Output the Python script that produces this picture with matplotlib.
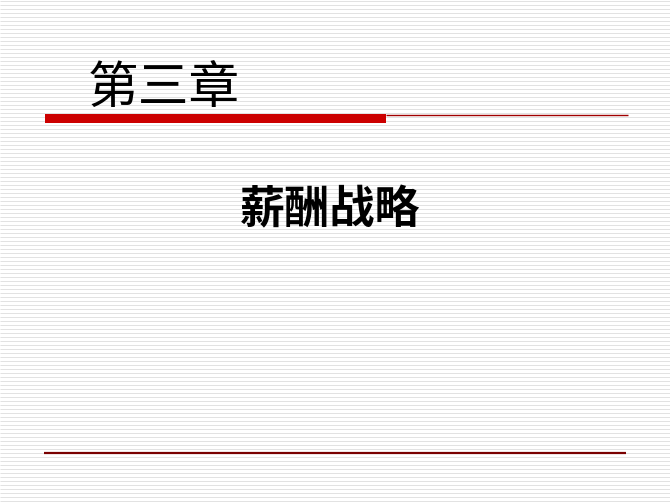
import numpy as np
import matplotlib.pyplot as plt

plt.rcParams['font.family'] = ['Noto Sans CJK SC', 'DejaVu Sans']

title = '第三章'
subtitle = '薪酬战略'

# slide layout in pixels (670 x 503)
W, H = 670, 503
stripe_y = np.arange(1, H, 4)

fig = plt.figure(figsize=(6.7, 5.03), dpi=100)
ax = fig.add_axes([0, 0, 1, 1])
ax.set_xlim(0, W)
ax.set_ylim(H, 0)
ax.axis('off')

# striped background
ax.hlines(stripe_y, 0, W, color='#e2e2e2', linewidth=0.7, zorder=1)

# title bar
ax.fill_between([45, 386], 114, 122.5, color='#cc0000', linewidth=0, zorder=3)
ax.hlines(114.5, 386, 628, color='#a00000', linewidth=1, zorder=3)
ax.hlines(452.5, 44, 626, color='#7a0000', linewidth=1.6, zorder=3)

ax.text(88, 90, title, fontsize=36.5, ha='left', va='center', color='black',
        zorder=4)
ax.text(330, 210, subtitle, fontsize=32.5, fontweight='bold', ha='center',
        va='center', color='black', zorder=4)

fig.savefig('out.png', dpi=100)
